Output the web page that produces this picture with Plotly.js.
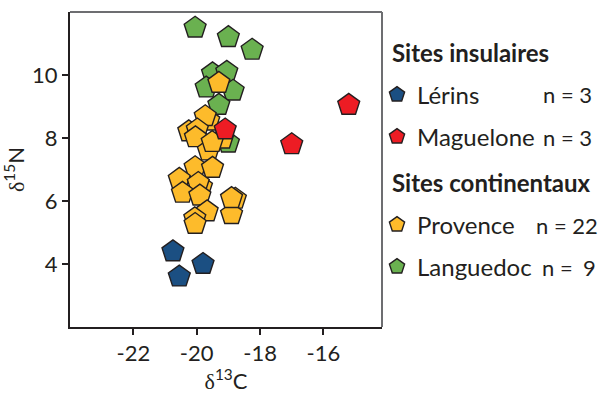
<!DOCTYPE html>
<html>
<head>
<meta charset="utf-8">
<script src="https://cdn.plot.ly/plotly-3.0.1.min.js"></script>
<style>html,body{margin:0;padding:0;background:#fff;}#chart{width:601px;height:394px;}</style>
</head>
<body>
<div id="chart"></div>
<script>
// Data (δ13C, δ15N)
const lerinsX = [-20.75, -19.8, -20.55];
const lerinsY = [4.4, 4.0, 3.6];
const maguelX = [-15.2, -17.0, -19.1];
const maguelY = [9.05, 7.8, 8.27];
const provX = [-19.62, -19.73, -19.3, -20.25, -19.98, -20.04, -19.18, -19.63, -19.51, -20.05, -19.5,
               -20.55, -19.85, -19.95, -20.45, -19.9, -19.67, -20.06, -20.05, -18.78, -18.9, -18.9];
const provY = [8.55, 8.69, 9.75, 8.21, 8.27, 8.02, 7.98, 7.6, 7.87, 7.07, 7.05,
               6.7, 6.45, 6.57, 6.26, 6.17, 5.67, 5.45, 5.27, 6.07, 5.58, 6.09];
const langX = [-19.0, -20.05, -19.0, -18.25, -19.5, -19.05, -19.7, -18.85, -19.3];
const langY = [7.85, 11.5, 11.2, 10.8, 10.05, 10.1, 9.6, 9.5, 9.05];

const groupTitles = ['Sites insulaires', 'Sites continentaux'];
const seriesNames = ['Lérins', 'Maguelone', 'Provence', 'Languedoc'];
const countLabels = ['n = 3', 'n = 3', 'n = 22', 'n ='];
const lastCount = '9';
const xTicks = [-22, -20, -18, -16];
const yTicks = [4, 6, 8, 10];

const colors = {lerins: '#1b4f82', maguel: '#ed1c24', prov: '#fdbb2b', lang: '#6ab150'};
const ink = '#231f20';
const FONT = 'Lato, "Open Sans", sans-serif';

function mk(color) {
  return {symbol: 'pentagon', size: 23, color: color, line: {color: ink, width: 1.4}};
}

const traces = [
  {x: langX, y: langY, name: seriesNames[3], type: 'scatter', mode: 'markers', marker: mk(colors.lang), legend: 'legend4'},
  {x: provX, y: provY, name: seriesNames[2], type: 'scatter', mode: 'markers', marker: mk(colors.prov), legend: 'legend3'},
  {x: maguelX, y: maguelY, name: seriesNames[1], type: 'scatter', mode: 'markers', marker: mk(colors.maguel), legend: 'legend2'},
  {x: lerinsX, y: lerinsY, name: seriesNames[0], type: 'scatter', mode: 'markers', marker: mk(colors.lerins), legend: 'legend'}
];

const L = 70, R = 382, T = 12, B = 327;
const px = v => (v - L) / (R - L);
const py = v => (B - v) / (B - T);

function leg(yPix) {
  return {x: px(377), xanchor: 'left', y: py(yPix), yanchor: 'middle', bgcolor: 'rgba(0,0,0,0)',
          borderwidth: 0, font: {family: FONT, size: 24, color: ink}};
}

const annFont = {family: FONT, size: 22, color: ink};
const titleFont = {family: FONT, size: 24, color: ink};
function ann(text, xPix, yPix, anchor, font) {
  return {text: text, x: px(xPix), y: py(yPix), xref: 'paper', yref: 'paper', xanchor: anchor,
          yanchor: 'middle', showarrow: false, font: font};
}
const annotations = [
  ann('<b>' + groupTitles[0] + '</b>', 390, 53, 'left', titleFont),
  ann('<b>' + groupTitles[1] + '</b>', 390, 182, 'left', titleFont),
  ann(countLabels[0], 541, 95, 'left', annFont),
  ann(countLabels[1], 541, 137, 'left', annFont),
  ann(countLabels[2], 534, 225, 'left', annFont),
  ann(countLabels[3], 540, 267, 'left', annFont),
  ann(lastCount, 598, 267, 'right', annFont)
];

const layout = {
  width: 601, height: 394,
  margin: {l: L, r: 601 - R, t: T, b: 394 - B, pad: 0},
  paper_bgcolor: '#fff', plot_bgcolor: '#fff',
  font: {family: FONT, size: 22, color: ink},
  xaxis: {
    range: [-24, -14.15], tickvals: xTicks, ticktext: xTicks.map(String),
    showgrid: false, zeroline: false, showline: true, linecolor: ink, linewidth: 2,
    ticks: 'outside', ticklen: 6, tickwidth: 2, tickcolor: ink,
    tickfont: {family: FONT, size: 22, color: ink},
    title: {text: '<span style="font-family:\'Liberation Serif\'">δ</span><sup>13</sup>C', font: {family: FONT, size: 22, color: ink}, standoff: 4}
  },
  yaxis: {
    range: [2, 12], tickvals: yTicks, ticktext: yTicks.map(String),
    showgrid: false, zeroline: false, showline: true, linecolor: ink, linewidth: 2,
    ticks: 'outside', ticklen: 6, tickwidth: 2, tickcolor: ink,
    tickfont: {family: FONT, size: 22, color: ink},
    title: {text: '<span style="font-family:\'Liberation Serif\'">δ</span><sup>15</sup>N', font: {family: FONT, size: 22, color: ink}, standoff: 1}
  },
  shapes: [
    {type: 'line', xref: 'paper', yref: 'paper', x0: 0, x1: 1, y0: 1, y1: 1, line: {color: '#6d6e71', width: 2}},
    {type: 'line', xref: 'paper', yref: 'paper', x0: 1, x1: 1, y0: 0, y1: 1, line: {color: '#6d6e71', width: 2}}
  ],
  showlegend: true,
  legend: leg(95),
  legend2: leg(137),
  legend3: leg(225),
  legend4: leg(267),
  annotations: annotations
};

Plotly.newPlot('chart', traces, layout, {displayModeBar: false, staticPlot: true});
</script>
</body>
</html>
